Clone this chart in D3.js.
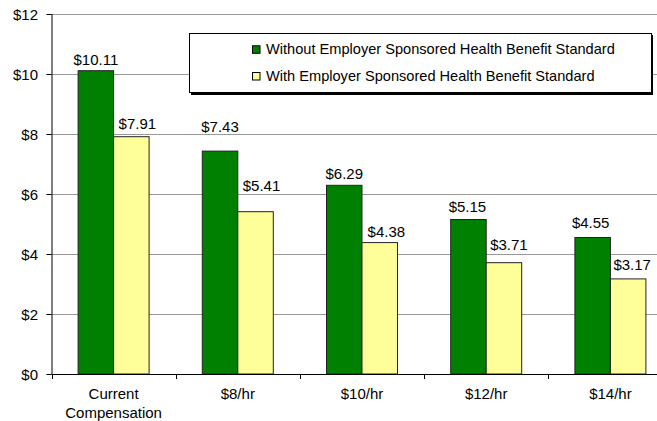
<!DOCTYPE html>
<html><head><meta charset="utf-8">
<script src="https://cdn.jsdelivr.net/npm/d3@7"></script>
<style>body{margin:0;background:#fff}svg{display:block;font-family:"Liberation Sans",Arial,sans-serif}</style>
</head><body><svg id="c" width="657" height="421"></svg>
<script>
const categories = [["Current","Compensation"],["$8/hr"],["$10/hr"],["$12/hr"],["$14/hr"]];
const withoutStd = [10.11, 7.43, 6.29, 5.15, 4.55];
const withStd = [7.91, 5.41, 4.38, 3.71, 3.17];
const seriesNames = ["Without Employer Sponsored Health Benefit Standard","With Employer Sponsored Health Benefit Standard"];
const yTicks = [0,2,4,6,8,10,12];

(function(){
const svg = d3.select("#c");
const W = 657;
const pL = 51.5, pR = 51.5 + 5*124.2, pT = 14, pB = 374;
const x = d3.scaleBand().domain(d3.range(categories.length)).range([pL, pR]).paddingInner(0).paddingOuter(0);
const y = d3.scaleLinear().domain([0,12]).range([pB, pT]);
const bw = 35.5;
const colors = ["#008000","#FFFF99"];
const fs = 15;
// manual label placement nudges (dx, gap above bar) as in the original chart
const labelLayout = [
  {dx:[0,0,0,-1,-2], gap:[6,18.7,6.7,7.3,9.4]},
  {dx:[6,6,6.6,5,4], gap:[8,20.7,5.7,13,8.7]}
];

svg.append("g").selectAll("line").data(yTicks.filter(d=>d>0)).join("line")
  .attr("x1", pL).attr("x2", W).attr("y1", d=>Math.round(y(d))+0.5).attr("y2", d=>Math.round(y(d))+0.5)
  .attr("stroke","#999").attr("stroke-width",1);

const series = [withoutStd, withStd];
series.forEach((vals, s) => {
  const g = svg.append("g");
  g.selectAll("rect").data(vals).join("rect")
    .attr("x", (d,i)=> x(i) + x.bandwidth()/2 - bw + s*bw)
    .attr("y", d=>y(d))
    .attr("width", bw).attr("height", d=>y(0)-y(d))
    .attr("fill", colors[s]).attr("stroke","#222").attr("stroke-width",1);
  g.selectAll("text").data(vals).join("text")
    .attr("x", (d,i)=> x(i) + x.bandwidth()/2 - bw/2 + s*bw + labelLayout[s].dx[i])
    .attr("y", (d,i)=>y(d)-labelLayout[s].gap[i])
    .attr("text-anchor","middle").attr("font-size",fs).attr("fill","#000")
    .text(d=>"$"+d.toFixed(2));
});

const ya = svg.append("g");
ya.append("line").attr("x1",pL+0.5).attr("x2",pL+0.5).attr("y1",pT).attr("y2",pB+0.5).attr("stroke","#000");
ya.selectAll("line.t").data(yTicks).join("line").attr("class","t")
  .attr("x1",pL-5).attr("x2",pL).attr("y1",d=>Math.round(y(d))+0.5).attr("y2",d=>Math.round(y(d))+0.5).attr("stroke","#000");
ya.selectAll("text").data(yTicks).join("text")
  .attr("x",38).attr("y",d=>y(d)+5.5).attr("text-anchor","end").attr("font-size",fs).text(d=>"$"+d);

const xa = svg.append("g");
xa.append("line").attr("x1",pL).attr("x2",W).attr("y1",pB+0.5).attr("y2",pB+0.5).attr("stroke","#000");
xa.selectAll("line.t").data(d3.range(categories.length)).join("line").attr("class","t")
  .attr("x1",d=>Math.round(x(d))+0.5).attr("x2",d=>Math.round(x(d))+0.5).attr("y1",pB).attr("y2",pB+5).attr("stroke","#000");
xa.selectAll("text").data(categories).join("text")
  .attr("text-anchor","middle").attr("font-size",fs)
  .each(function(lines,i){
    const t = d3.select(this);
    lines.forEach((l,k)=>t.append("tspan").attr("x", x(i)+x.bandwidth()/2).attr("y", 399 + k*19).text(l));
  });

const lg = svg.append("g");
lg.append("rect").attr("x",191).attr("y",35).attr("width",462).attr("height",60).attr("fill","#000");
lg.append("rect").attr("x",189.5).attr("y",33.5).attr("width",462).attr("height",59).attr("fill","#fff").attr("stroke","#000");
seriesNames.forEach((n,i)=>{
  const base = 54.3 + i*26.7;
  lg.append("rect").attr("x",252.5).attr("y",base-8.5).attr("width",7.5).attr("height",7.5).attr("fill",colors[i]).attr("stroke","#000");
  lg.append("text").attr("x",266).attr("y",base).attr("font-size",14.6).text(n);
});
})();
</script></body></html>
